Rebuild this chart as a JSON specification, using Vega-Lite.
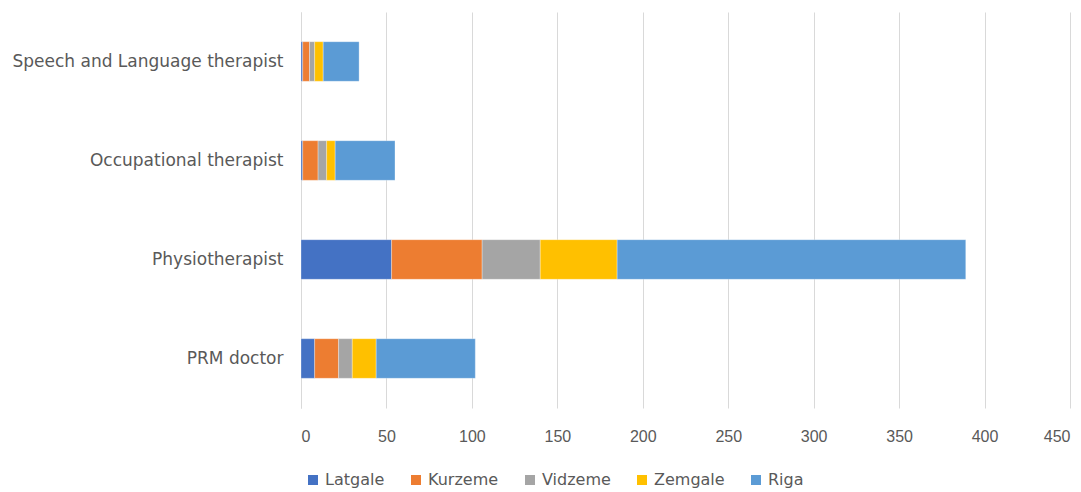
{
  "$schema": "https://vega.github.io/schema/vega-lite/v6.json",
  "width": 769,
  "height": 396,
  "autosize": {"type": "none"},
  "padding": {"left": 301, "top": 12, "right": 11, "bottom": 84},
  "background": "white",
  "config": {
    "font": "Liberation Sans",
    "view": {"stroke": null}
  },
  "data": {
    "values": [
      {"role": "Speech and Language therapist", "region": "Latgale", "idx": 1, "value": 1},
      {"role": "Speech and Language therapist", "region": "Kurzeme", "idx": 2, "value": 4},
      {"role": "Speech and Language therapist", "region": "Vidzeme", "idx": 3, "value": 3},
      {"role": "Speech and Language therapist", "region": "Zemgale", "idx": 4, "value": 5},
      {"role": "Speech and Language therapist", "region": "Riga", "idx": 5, "value": 21},
      {"role": "Occupational therapist", "region": "Latgale", "idx": 1, "value": 1},
      {"role": "Occupational therapist", "region": "Kurzeme", "idx": 2, "value": 9},
      {"role": "Occupational therapist", "region": "Vidzeme", "idx": 3, "value": 5},
      {"role": "Occupational therapist", "region": "Zemgale", "idx": 4, "value": 5},
      {"role": "Occupational therapist", "region": "Riga", "idx": 5, "value": 35},
      {"role": "Physiotherapist", "region": "Latgale", "idx": 1, "value": 53},
      {"role": "Physiotherapist", "region": "Kurzeme", "idx": 2, "value": 53},
      {"role": "Physiotherapist", "region": "Vidzeme", "idx": 3, "value": 34},
      {"role": "Physiotherapist", "region": "Zemgale", "idx": 4, "value": 45},
      {"role": "Physiotherapist", "region": "Riga", "idx": 5, "value": 204},
      {"role": "PRM doctor", "region": "Latgale", "idx": 1, "value": 8},
      {"role": "PRM doctor", "region": "Kurzeme", "idx": 2, "value": 14},
      {"role": "PRM doctor", "region": "Vidzeme", "idx": 3, "value": 8},
      {"role": "PRM doctor", "region": "Zemgale", "idx": 4, "value": 14},
      {"role": "PRM doctor", "region": "Riga", "idx": 5, "value": 58}
    ]
  },
  "mark": {"type": "bar", "stroke": "white", "strokeWidth": 0.5, "strokeOpacity": 0.6},
  "encoding": {
    "y": {
      "field": "role",
      "type": "nominal",
      "sort": ["Speech and Language therapist", "Occupational therapist", "Physiotherapist", "PRM doctor"],
      "scale": {"paddingInner": 0.6, "paddingOuter": 0.3},
      "axis": {
        "title": null,
        "ticks": false,
        "domain": true,
        "domainColor": "#d9d9d9",
        "domainWidth": 1,
        "labelFont": "DejaVu Sans",
        "labelFontSize": 17,
        "labelColor": "#595959",
        "labelPadding": 18,
        "labelLimit": 400
      }
    },
    "x": {
      "field": "value",
      "type": "quantitative",
      "stack": "zero",
      "scale": {"domain": [0, 450], "nice": false},
      "axis": {
        "title": null,
        "values": [0, 50, 100, 150, 200, 250, 300, 350, 400, 450],
        "ticks": false,
        "domain": false,
        "grid": true,
        "gridColor": "#d9d9d9",
        "gridWidth": 1,
        "labelFontSize": 16,
        "labelColor": "#595959",
        "labelPadding": 20
      }
    },
    "color": {
      "field": "region",
      "type": "nominal",
      "sort": ["Latgale", "Kurzeme", "Vidzeme", "Zemgale", "Riga"],
      "scale": {
        "domain": ["Latgale", "Kurzeme", "Vidzeme", "Zemgale", "Riga"],
        "range": ["#4472C4", "#ED7D31", "#A5A5A5", "#FFC000", "#5B9BD5"]
      },
      "legend": {
        "title": null,
        "orient": "none",
        "direction": "horizontal",
        "legendX": 4,
        "legendY": 460,
        "symbolType": "square",
        "symbolSize": 100,
        "symbolStrokeWidth": 0,
        "labelFont": "DejaVu Sans",
        "labelFontSize": 16,
        "labelColor": "#595959",
        "labelOffset": 4,
        "columnPadding": 23
      }
    },
    "order": {"field": "idx", "type": "quantitative"}
  }
}
